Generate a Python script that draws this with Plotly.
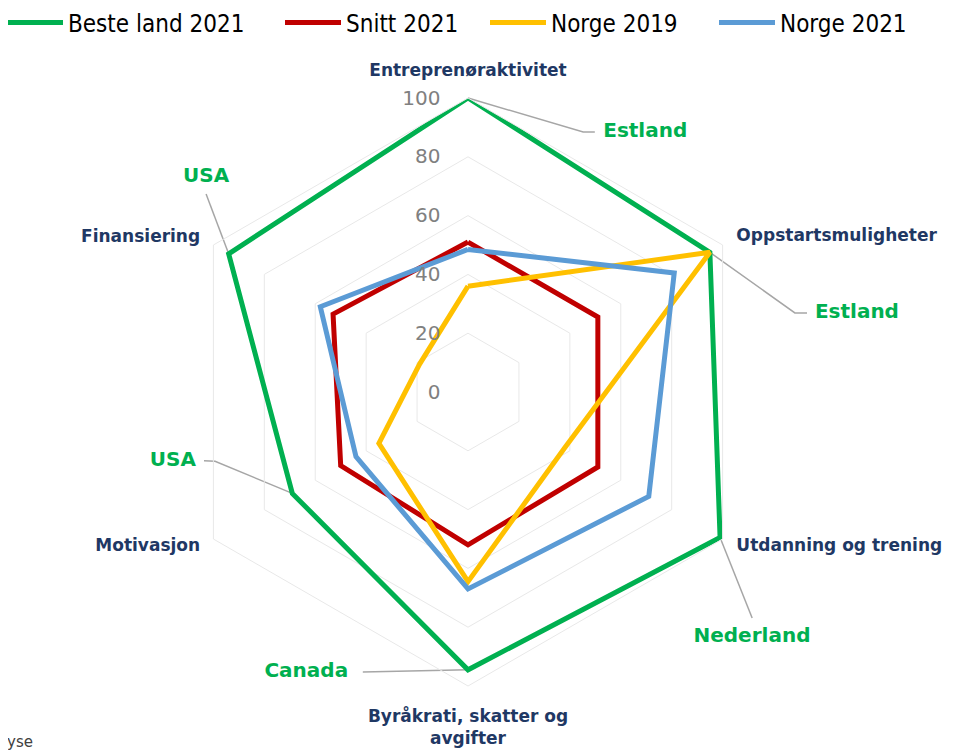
import numpy as np
import plotly.graph_objects as go

categories = ["Entreprenøraktivitet", "Oppstartsmuligheter", "Utdanning og trening",
              "Byråkrati, skatter og<br>avgifter", "Motivasjon", "Finansiering"]

beste_2021 = [100, 95, 99, 94.5, 69, 94]
snitt_2021 = [51, 51, 51, 52, 50, 53]
norge_2019 = [36, 95, 38, 64.5, 35, 19]
norge_2021 = [48.5, 81, 71, 67, 44, 58]

best_countries = ["Estland", "Estland", "Nederland", "Canada", "USA", "USA"]

radial_ticks = [0, 20, 40, 60, 80, 100]

# label layout (polar r, theta in degrees clockwise from top)
cat_label_r = [109.0, 105.4, 105.4, 114.5, 105.2, 105.2]
cat_label_pos = ["middle center", "middle right", "middle right", "middle center", "middle left", "middle left"]
leader_bends = [
    [(96.7, 23.9), (98.4, 26.0)],
    [(114.4, 76.4), (118.4, 76.9)],
    [(123.5, 128.5)],
    [(101.7, 200.6)],
    [(89.2, 254.7), (92.8, 255.4)],
    [(111.7, 307.1)],
]
label_pos = [(107.0, 34.3), (135.0, 78.5), (127.6, 130.8), (110.0, 210.0), (103.1, 256.8), (115.3, 309.4)]

# page body adds an 8px offset, so the figure is drawn 8px smaller and shifted
W, H = 947, 743
CX, CY = 460, 384      # centre of the radar, px
RPX = 294              # px radius of value 100
S = RPX / 100.0
step = 360 / len(categories)

def to_xy(r, th):
    t = np.deg2rad(th)
    return r * np.sin(t), r * np.cos(t)

series = [
    ("Beste land 2021", beste_2021, "#00B050", "legend", -6),
    ("Snitt 2021", snitt_2021, "#C00000", "legend2", 272),
    ("Norge 2019", norge_2019, "#FFC000", "legend3", 477),
    ("Norge 2021", norge_2021, "#5B9BD5", "legend4", 706),
]

fig = go.Figure()

# leader lines, country labels and category labels on an invisible cartesian overlay
# (same unit scale as the radar)
lx, ly = [], []
for i, bends in enumerate(leader_bends):
    x0, y0 = to_xy(beste_2021[i], i * step)
    lx.append(x0); ly.append(y0)
    for (r, th) in bends:
        x, y = to_xy(r, th)
        lx.append(x); ly.append(y)
    lx.append(None); ly.append(None)
fig.add_trace(go.Scatter(x=lx, y=ly, mode="lines", line=dict(color="#A6A6A6", width=1.5),
                         showlegend=False, hoverinfo="skip"))
tx, ty = zip(*[to_xy(r, th) for r, th in label_pos])
fig.add_trace(go.Scatter(x=list(tx), y=list(ty), mode="text", text=best_countries,
                         textposition="middle center",
                         textfont=dict(family="DejaVu Sans, sans-serif", size=20, color="#00B050", weight="bold"),
                         showlegend=False, hoverinfo="skip"))
cx_, cy_ = zip(*[to_xy(r, i * step) for i, r in enumerate(cat_label_r)])
fig.add_trace(go.Scatter(x=list(cx_), y=list(cy_), mode="text", text=categories,
                         textposition=cat_label_pos,
                         textfont=dict(family="DejaVu Sans, sans-serif", size=17, color="#1F3864", weight="bold"),
                         showlegend=False, hoverinfo="skip"))

legend_font = dict(family="DejaVu Sans Condensed, Liberation Sans Narrow, sans-serif", size=24, color="#000000")
legends = {}
for name, vals, col, lg, xpx in series:
    fig.add_trace(go.Scatterpolar(
        r=vals + [vals[0]], theta=categories + [categories[0]], mode="lines", name=name,
        line=dict(color=col, width=5), subplot="polar", legend=lg))
    legends[lg] = dict(orientation="h", x=xpx / W, y=1 - 15 / H, xanchor="left", yanchor="middle",
                       font=legend_font, itemwidth=56, bgcolor="rgba(0,0,0,0)", borderwidth=0)

fig.update_layout(
    width=W, height=H,
    margin=dict(l=0, r=0, t=0, b=0, autoexpand=False),
    paper_bgcolor="white", plot_bgcolor="rgba(0,0,0,0)",
    xaxis=dict(visible=False, range=[-CX / S, (W - CX) / S], domain=[0, 1], fixedrange=True),
    yaxis=dict(visible=False, range=[-(H - CY) / S, CY / S], domain=[0, 1], fixedrange=True),
    polar=dict(
        domain=dict(x=[(CX - RPX) / W, (CX + RPX) / W], y=[1 - (CY + RPX) / H, 1 - (CY - RPX) / H]),
        bgcolor="rgba(0,0,0,0)",
        gridshape="linear",
        radialaxis=dict(range=[0, 100], tickvals=radial_ticks, angle=90, side="counterclockwise",
                        tickangle=90, showline=False, ticks="outside", ticklen=20,
                        tickcolor="rgba(0,0,0,0)", gridcolor="#E8E8E8", gridwidth=1,
                        tickfont=dict(family="DejaVu Sans, sans-serif", size=20, color="#808080")),
        angularaxis=dict(type="category", rotation=90, direction="clockwise",
                         categoryorder="array", categoryarray=categories,
                         showgrid=False, showline=True, linecolor="#E8E8E8", linewidth=1,
                         ticks="", showticklabels=False),
    ),
    annotations=[dict(text="yse", x=0.0, y=0.0, xref="paper", yref="paper", xanchor="left", yanchor="bottom",
                      xshift=-3, yshift=-2, showarrow=False,
                      font=dict(family="DejaVu Sans, sans-serif", size=15, color="#404040"))],
    **legends,
)

fig.write_html("out.html")
